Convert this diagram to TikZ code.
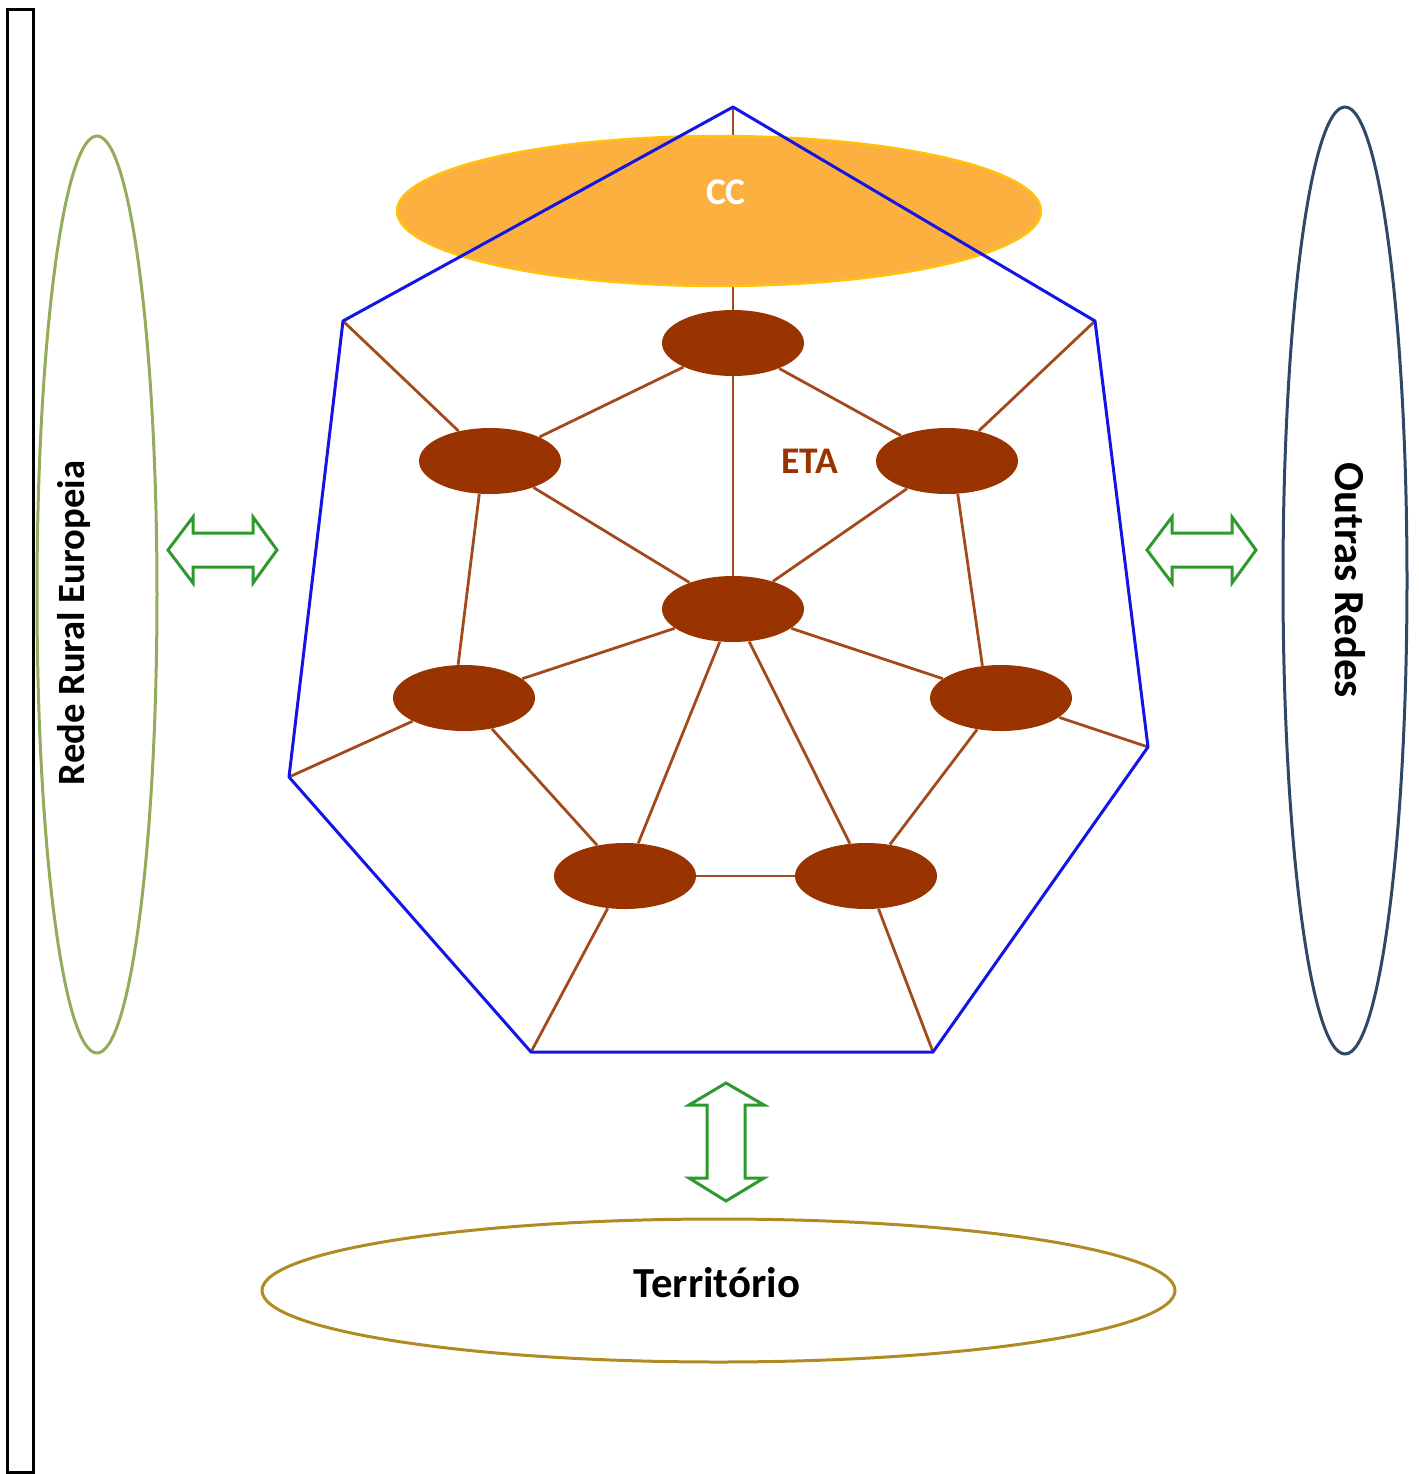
\documentclass[tikz,border=0pt]{standalone}
\usepackage{fontspec}
\setmainfont{Carlito}
\usetikzlibrary{shapes.geometric}
\definecolor{nodebrown}{HTML}{993300}
\definecolor{linebrown}{HTML}{A24A1C}
\definecolor{hepblue}{HTML}{1414E6}
\definecolor{ccfill}{HTML}{FBB040}
\definecolor{ccdraw}{HTML}{FFC20E}
\definecolor{olive}{HTML}{92AC5C}
\definecolor{slate}{HTML}{2E4866}
\definecolor{goldbrown}{HTML}{B08A22}
\definecolor{arrgreen}{HTML}{2E9A2E}
\begin{document}
\begin{tikzpicture}[x=0.5pt,y=-0.5pt,
  hub/.style={ellipse,fill=nodebrown,draw=none,minimum width=71pt,minimum height=33pt,inner sep=0pt},
  link/.style={draw=linebrown,line width=1.4pt},
  hepline/.style={draw=hepblue,line width=1.5pt,line join=round},
  garrow/.style={draw=arrgreen,fill=white,line width=1.5pt,line join=miter},
  bigtext/.style={font=\bfseries\fontsize{21.4}{24}\selectfont,text=black},
  sidetext/.style={font=\bfseries\fontsize{19.3}{24}\selectfont,text=black},
  midtext/.style={font=\bfseries\fontsize{18.8}{22}\selectfont}]
\useasboundingbox (0,0) rectangle (1419,1474);
% left frame
\draw[line width=1.5pt,black] (7,9) rectangle (33,1472);
% heptagon vertices
\coordinate (vt) at (733,107);
\coordinate (vur) at (1095,321);
\coordinate (vlr) at (1148,747);
\coordinate (vbr) at (933,1052);
\coordinate (vbl) at (531,1052);
\coordinate (vll) at (289,777);
\coordinate (vul) at (343,321);
% brown nodes
\node[hub] (n1) at (733,343) {};
\node[hub] (n2) at (490,461) {};
\node[hub] (n3) at (947,461) {};
\node[hub] (n4) at (733,609) {};
\node[hub] (n5) at (464,698) {};
\node[hub] (n6) at (1001,698) {};
\node[hub] (n7) at (625,876) {};
\node[hub] (n8) at (866,876) {};
% brown links
\draw[link] (vt) -- (n1);
\draw[link] (n1) -- (n2);
\draw[link] (n1) -- (n3);
\draw[link] (n1) -- (n4);
\draw[link] (n2) -- (vul);
\draw[link] (n3) -- (vur);
\draw[link] (n2) -- (n4);
\draw[link] (n3) -- (n4);
\draw[link] (n2.-108) -- (n5.100);
\draw[link] (n3.-72) -- (n6.120);
\draw[link] (n4) -- (n5);
\draw[link] (n4) -- (n6);
\draw[link] (n4) -- (n7);
\draw[link] (n4) -- (n8);
\draw[link] (n5) -- (vll);
\draw[link] (n6) -- (vlr);
\draw[link] (n5) -- (n7);
\draw[link] (n6) -- (n8);
\draw[link] (n7) -- (n8);
\draw[link] (n7) -- (vbl);
\draw[link] (n8) -- (vbr);
% CC ellipse
\node[ellipse,fill=ccfill,draw=ccdraw,line width=1.2pt,minimum width=322pt,minimum height=75pt,inner sep=0pt] (cc) at (719,211) {};
\node[midtext,text=white] (cct) at (726,192) {CC};
% heptagon
\draw[hepline] (vt) -- (vur) -- (vlr) -- (vbr) -- (vbl) -- (vll) -- (vul) -- cycle;
\node[midtext,text=nodebrown] (eta) at (810,461) {ETA};
% outer ellipses
\node[ellipse,draw=olive,line width=1.5pt,minimum width=60pt,minimum height=458.5pt,inner sep=0pt] (rre) at (97,594.5) {};
\node[sidetext,rotate=90] (rret) at (74,623) {Rede Rural Europeia};
\node[ellipse,draw=slate,line width=1.5pt,minimum width=62pt,minimum height=473.5pt,inner sep=0pt] (orr) at (1345,580.5) {};
\node[bigtext,rotate=-90] (orrt) at (1350,580) {Outras Redes};
\node[ellipse,draw=goldbrown,line width=1.5pt,minimum width=456.5pt,minimum height=71.5pt,inner sep=0pt] (ter) at (718.5,1290.5) {};
\node[bigtext] (tert) at (717,1283) {Território};
% green double arrows
\draw[garrow] (168,550) -- (193,517) -- (193,533) -- (253,533) -- (253,517) -- (277,550) -- (253,583) -- (253,567) -- (193,567) -- (193,583) -- cycle;
\draw[garrow] (1147,550) -- (1172,517) -- (1172,533) -- (1232,533) -- (1232,517) -- (1256,550) -- (1232,583) -- (1232,567) -- (1172,567) -- (1172,583) -- cycle;
\draw[garrow] (726,1083) -- (764,1105) -- (745,1105) -- (745,1178) -- (764,1178) -- (726,1201) -- (689,1178) -- (707,1178) -- (707,1105) -- (689,1105) -- cycle;
\end{tikzpicture}
\end{document}
